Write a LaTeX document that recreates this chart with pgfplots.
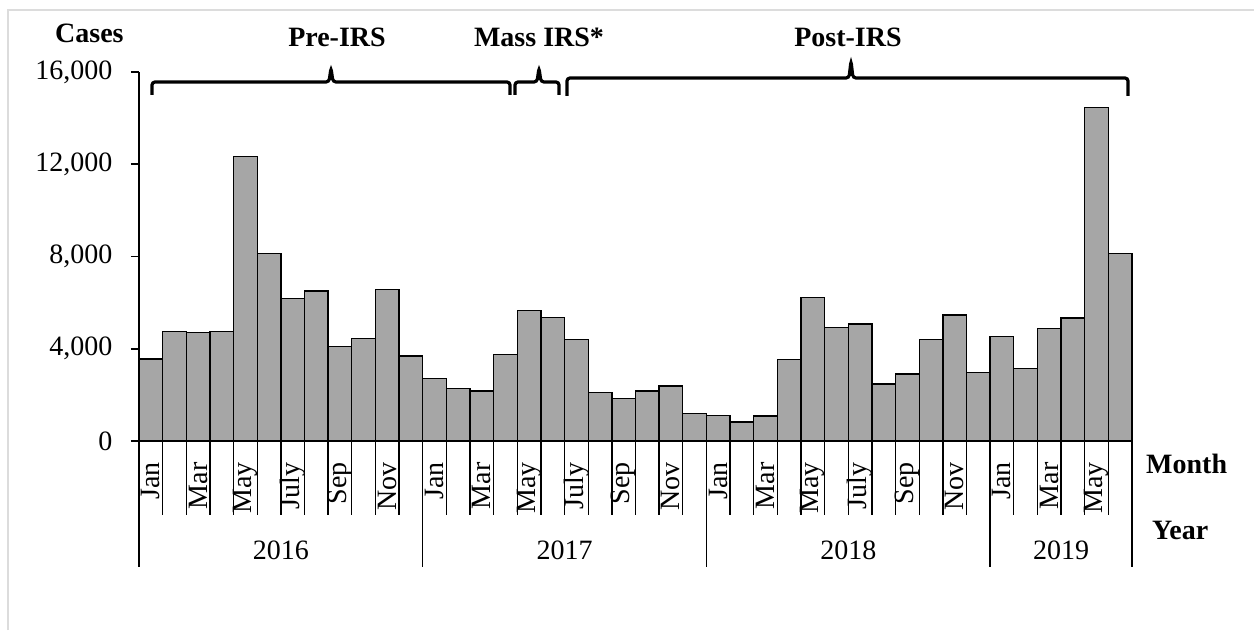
\documentclass[border=0pt]{standalone}
\usepackage{fontspec}
\setmainfont{Liberation Serif}
\usepackage{pgfplots}
\usepackage{pgfplotstable}
\pgfplotsset{compat=1.18}
\definecolor{barfill}{RGB}{166,166,166}
\definecolor{framegray}{RGB}{220,220,220}
\pgfplotstableread{
x y
0 3550
1 4740
2 4700
3 4750
4 12340
5 8140
6 6190
7 6510
8 4110
9 4440
10 6560
11 3690
12 2720
13 2270
14 2170
15 3750
16 5670
17 5360
18 4410
19 2110
20 1850
21 2170
22 2380
23 1190
24 1120
25 820
26 1090
27 3530
28 6210
29 4910
30 5070
31 2470
32 2900
33 4400
34 5460
35 2960
36 4520
37 3130
38 4880
39 5330
40 14460
41 8140
}\casedata
\newcommand{\bigfont}{\fontsize{28}{34}\selectfont}
\begin{document}
\begin{tikzpicture}[x=1pt,y=1pt]
\path[use as bounding box] (0,0) rectangle (1254,630);
\draw[framegray, line width=1.5pt] (8,0) -- (8,620) -- (1254,620);
\begin{axis}[
  at={(139pt,189pt)}, anchor=south west,
  scale only axis, width=993pt, height=369pt,
  xmin=-0.5, xmax=41.5, ymin=0, ymax=16000,
  axis lines*=left,
  axis line style={line width=1.5pt, black},
  clip=false,
  ytick={0,4000,8000,12000,16000},
  scaled y ticks=false,
  /pgf/number format/1000 sep={,},
  /pgf/number format/assume math mode=true,
  tick align=outside, major tick length=8pt,
  ytick style={line width=1.5pt, black},
  xtick={0,...,41},
  xtick style={draw=none},
  xticklabels={Jan,,Mar,,May,,July,,Sep,,Nov,,Jan,,Mar,,May,,July,,Sep,,Nov,,Jan,,Mar,,May,,July,,Sep,,Nov,,Jan,,Mar,,May,},
  tick label style={font=\bigfont},
  xticklabel style={rotate=90, anchor=east, xshift=-10pt},
  yticklabel style={xshift=-15pt},
]
\addplot[ybar, bar width=1, fill=barfill, draw=black, line width=1.3pt] table[x=x, y=y] {\casedata};
\pgfplotsinvokeforeach{-0.5,0.5,...,41.5}{\draw[line width=1.3pt] (axis cs:#1,0) -- ++(0pt,-74pt);}
\pgfplotsinvokeforeach{-0.5,11.5,23.5,35.5,41.5}{\draw[line width=1.3pt] (axis cs:#1,0) -- ++(0pt,-126pt);}
\node[anchor=base, font=\bigfont] at (axis cs:5.5,0) [yshift=-118pt] {2016};
\node[anchor=base, font=\bigfont] at (axis cs:17.5,0) [yshift=-118pt] {2017};
\node[anchor=base, font=\bigfont] at (axis cs:29.5,0) [yshift=-118pt] {2018};
\node[anchor=base, font=\bigfont] at (axis cs:38.5,0) [yshift=-118pt] {2019};
\node[anchor=base west, inner sep=0pt, font=\bigfont\bfseries] at (axis cs:41.5,0) [xshift=14pt, yshift=-32pt] {Month};
\node[anchor=base west, inner sep=0pt, font=\bigfont\bfseries] at (axis cs:41.5,0) [xshift=20pt, yshift=-98pt] {Year};
\end{axis}
\node[anchor=base west, inner sep=0pt, font=\bigfont\bfseries] at (55,587) {Cases};
\node[anchor=base, inner sep=0pt, font=\bigfont\bfseries] at (337,583) {Pre-IRS};
\node[anchor=base, inner sep=0pt, font=\bigfont\bfseries] at (539,583) {Mass IRS*};
\node[anchor=base, inner sep=0pt, font=\bigfont\bfseries] at (848,583) {Post-IRS};
\begin{scope}[line width=3.2pt, rounded corners=3pt]
\draw (152,535) -- (152,548) -- (329,548) -- (331,562) -- (333,548) -- (510,548) -- (510,535);
\draw (515,535) -- (515,548) -- (537,548) -- (539,562) -- (541,548) -- (559,548) -- (559,535);
\draw (567,534) -- (567,552) -- (849,552) -- (851,569) -- (853,552) -- (1128,552) -- (1128,534);
\end{scope}
\end{tikzpicture}
\end{document}
